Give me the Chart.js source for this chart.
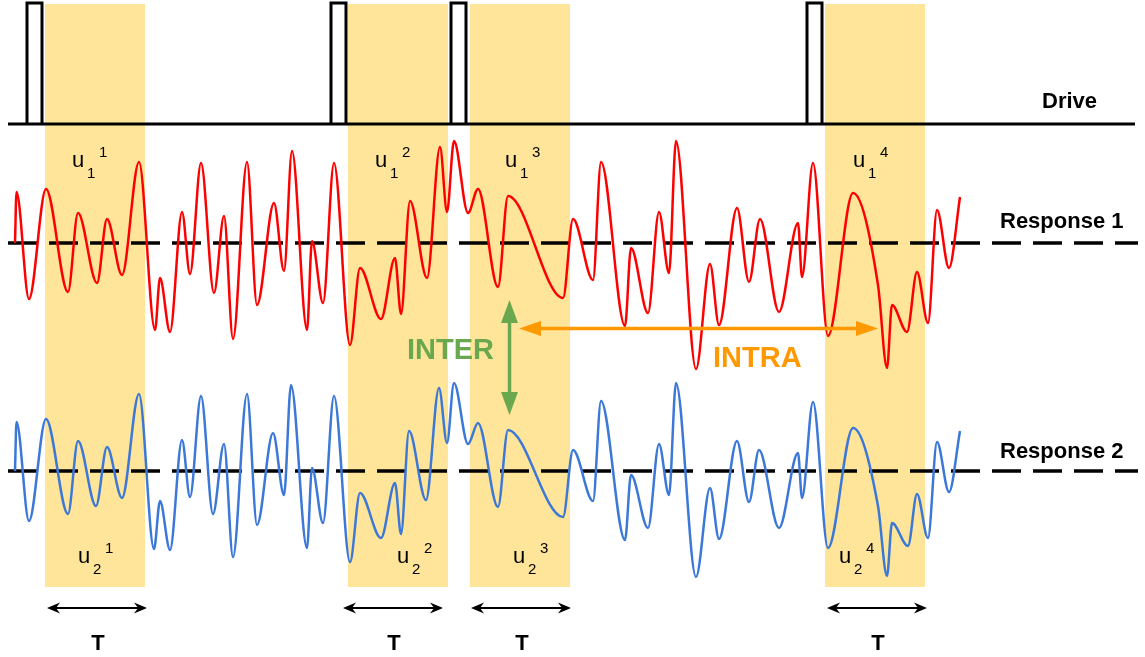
<!DOCTYPE html>
<html>
<head>
<meta charset="utf-8">
<script src="https://cdn.jsdelivr.net/npm/chart.js@4.4.1/dist/chart.umd.min.js"></script>
<style>
  html, body { margin: 0; padding: 0; background: #ffffff; }
  #wrap { width: 1145px; height: 657px; position: relative; }
</style>
</head>
<body>
<div id="wrap"><canvas id="c"></canvas></div>
<script>
// ---- Data -------------------------------------------------------------
// Response 1: turning points of the trace (time, amplitude above its baseline)
const resp1Time = [15, 16.5, 29, 46, 68, 78, 97, 107, 122, 139, 155, 160, 170, 182, 190, 201, 214, 224, 233, 247, 257, 274, 284, 292,
  307, 312, 323, 334, 350, 360, 381, 395, 401, 410, 427, 440, 447, 454, 468, 478, 498, 508, 563, 573, 593, 601, 625, 631, 648, 659,
  669, 676, 696, 710, 719, 737, 749, 760, 779, 798, 802, 813, 828, 853, 878, 887, 892, 907, 917, 928, 937, 949, 960];
const resp1Amp = [0, 51, -56, 54, -49, 30, -40, 24, -32, 81, -87, -35, -89, 31, -31, 80, -50, 27, -96, 81, -62, 40, -28, 92,
  -87, 2, -60, 80, -102, -25, -76, -15, -71, 42, -35, 96, 31, 102, 30, 54, -44, 47, -55, 24, -37, 81, -83, -5, -70, 31,
  -30, 102, -126, -21, -82, 35, -39, 24, -69, 20, -34, 80, -93, 50, -42, -125, -62, -89, -29, -80, 33, -25, 46];

// Response 2: same trials, second recording
const resp2Time = [15, 16.5, 29, 46, 68, 78, 96, 107, 122, 139, 154, 160, 170, 182, 190, 201, 213, 224, 233, 247, 257, 273, 284, 291,
  307, 312, 323, 334, 350, 360, 381, 395, 401, 409, 426, 439, 447, 454, 468, 478, 498, 508, 563, 573, 593, 601, 625, 631, 648, 659,
  669, 676, 696, 710, 719, 737, 749, 759, 779, 798, 802, 813, 828, 853, 878, 887, 892, 908, 917, 928, 937, 949, 960];
const resp2Amp = [0, 49, -50, 52, -43, 30, -35, 24, -27, 77, -78, -30, -79, 31, -26, 75, -43, 27, -86, 77, -54, 38, -24, 86,
  -77, 3, -52, 75, -91, -22, -67, -12, -63, 40, -29, 83, 28, 88, 27, 48, -36, 41, -46, 21, -30, 70, -69, -4, -57, 27,
  -24, 88, -106, -17, -68, 30, -31, 21, -57, 18, -27, 69, -77, 43, -35, -105, -52, -75, -23, -67, 29, -21, 40];

// Drive pulses and analysis windows of length T
const pulseOnsets = [27, 331, 451, 807];
const pulseWidth = 15;
const windowOnsets = [45, 348, 470, 825];
const windowLength = 100;                 // T
const trialIds = ['1', '2', '3', '4'];
const traceNames = ['Drive', 'Response 1', 'Response 2'];
const compareNames = ['INTER', 'INTRA'];

// ---- Layout (time on x, depth down the panel on y) ---------------------
const X_MIN = 0, X_MAX = 1145, Y_MIN = 0, Y_MAX = 657;
const DRIVE_BASE = 124, DRIVE_TOP = 3;
const BASE1 = 243, BASE2 = 471;
const LINE_START = 8, LINE_END = 1138, DRIVE_END = 1135;
const SHADE_TOP = 4, SHADE_BOTTOM = 587;
const U1_X = [72, 375, 505, 853], U1_Y = 167;
const U2_X = [78, 397, 513, 839], U2_Y = 563;
const T_ARROW_START = [47, 343, 471, 827], T_ARROW_Y = 608, T_TEXT_Y = 650;
const NAME_POS = [{x: 1042, y: 108}, {x: 1000, y: 228}, {x: 1000, y: 458}];
const INTER_ARROW = {x: 509.5, y0: 300, y1: 415};
const INTRA_ARROW = {y: 328.5, x0: 519, x1: 878};
const INTER_TEXT = {x: 407, y: 359};
const INTRA_TEXT = {x: 713, y: 367};

const FONT = '"Liberation Sans", Arial, Helvetica, sans-serif';
const SHADE = '#ffe599';
const RED = '#ff0000';
const BLUE = '#3c78d8';
const GREEN = '#6aa84f';
const ORANGE = '#ff9900';

// ---- Datasets ---------------------------------------------------------
const trace = (times, amps, base) => times.map((t, i) => ({x: t, y: base - amps[i]}));

// Drive: baseline with each pulse drawn as a closed box sitting on it
const drivePts = [{x: LINE_START, y: 0}];
pulseOnsets.forEach(t => {
  drivePts.push({x: t, y: 0}, {x: t, y: 1}, {x: t + pulseWidth, y: 1}, {x: t + pulseWidth, y: 0},
                {x: t, y: 0}, {x: t + pulseWidth, y: 0});
});
drivePts.push({x: DRIVE_END, y: 0});
const driveData = drivePts.map(p => ({x: p.x, y: DRIVE_BASE - p.y * (DRIVE_BASE - DRIVE_TOP)}));

const baseline = base => [{x: LINE_START, y: base}, {x: LINE_END, y: base}];

// ---- Drawing helpers --------------------------------------------------
function stealthHead(ctx, tipX, tipY, dir) {
  const L = 13, H = 5.5, N = 4;
  ctx.beginPath();
  ctx.moveTo(tipX, tipY);
  ctx.lineTo(tipX + dir * L, tipY - H);
  ctx.lineTo(tipX + dir * (L - N), tipY);
  ctx.lineTo(tipX + dir * L, tipY + H);
  ctx.closePath();
  ctx.fill();
}

function triHeadH(ctx, tipX, tipY, dir, L, H) {
  ctx.beginPath();
  ctx.moveTo(tipX, tipY);
  ctx.lineTo(tipX + dir * L, tipY - H);
  ctx.lineTo(tipX + dir * L, tipY + H);
  ctx.closePath();
  ctx.fill();
}

function triHeadV(ctx, tipX, tipY, dir, L, H) {
  ctx.beginPath();
  ctx.moveTo(tipX, tipY);
  ctx.lineTo(tipX - H, tipY + dir * L);
  ctx.lineTo(tipX + H, tipY + dir * L);
  ctx.closePath();
  ctx.fill();
}

function drawULabel(ctx, x, y, sub, sup) {
  ctx.fillStyle = '#000';
  ctx.textAlign = 'left';
  ctx.textBaseline = 'alphabetic';
  ctx.font = '22px ' + FONT;
  ctx.fillText('u', x, y);
  ctx.font = '15px ' + FONT;
  ctx.fillText(sub, x + 15, y + 11);
  ctx.fillText(sup, x + 27, y - 10);
}

// Shaded analysis windows, behind the traces
const windowsPlugin = {
  id: 'windows',
  beforeDatasetsDraw(chart) {
    const {ctx, scales: {x, y}} = chart;
    ctx.save();
    ctx.fillStyle = SHADE;
    windowOnsets.forEach(t => {
      const l = x.getPixelForValue(t), r = x.getPixelForValue(t + windowLength);
      const top = y.getPixelForValue(SHADE_TOP), bot = y.getPixelForValue(SHADE_BOTTOM);
      ctx.fillRect(l, top, r - l, bot - top);
    });
    ctx.restore();
  }
};

// Names, trial labels, T spans and comparison arrows
const annotationsPlugin = {
  id: 'annotations',
  afterDatasetsDraw(chart) {
    const {ctx, scales: {x, y}} = chart;
    const X = v => x.getPixelForValue(v), Y = v => y.getPixelForValue(v);
    ctx.save();

    // trace names
    ctx.fillStyle = '#000';
    ctx.font = 'bold 22px ' + FONT;
    ctx.textAlign = 'left';
    ctx.textBaseline = 'alphabetic';
    traceNames.forEach((n, i) => ctx.fillText(n, X(NAME_POS[i].x), Y(NAME_POS[i].y)));

    // trial labels u_r^k
    trialIds.forEach((k, i) => {
      drawULabel(ctx, X(U1_X[i]), Y(U1_Y), '1', k);
      drawULabel(ctx, X(U2_X[i]), Y(U2_Y), '2', k);
    });

    // T spans
    ctx.strokeStyle = '#000';
    ctx.fillStyle = '#000';
    ctx.lineWidth = 2;
    T_ARROW_START.forEach(s => {
      const l = X(s), r = X(s + windowLength), yy = Y(T_ARROW_Y);
      ctx.beginPath();
      ctx.moveTo(l + 6, yy);
      ctx.lineTo(r - 6, yy);
      ctx.stroke();
      stealthHead(ctx, l, yy, 1);
      stealthHead(ctx, r, yy, -1);
      ctx.font = 'bold 22px ' + FONT;
      ctx.textAlign = 'center';
      ctx.fillText('T', (l + r) / 2 + 1, Y(T_TEXT_Y));
    });

    // INTER: between the two responses
    ctx.strokeStyle = GREEN;
    ctx.fillStyle = GREEN;
    ctx.lineWidth = 3.5;
    const ix = X(INTER_ARROW.x), iy0 = Y(INTER_ARROW.y0), iy1 = Y(INTER_ARROW.y1);
    ctx.beginPath();
    ctx.moveTo(ix, iy0 + 15);
    ctx.lineTo(ix, iy1 - 15);
    ctx.stroke();
    triHeadV(ctx, ix, iy0, 1, 23, 8.5);
    triHeadV(ctx, ix, iy1, -1, 23, 8.5);
    ctx.font = 'bold 29px ' + FONT;
    ctx.textAlign = 'left';
    ctx.fillText(compareNames[0], X(INTER_TEXT.x), Y(INTER_TEXT.y));

    // INTRA: across trials within a response
    ctx.strokeStyle = ORANGE;
    ctx.fillStyle = ORANGE;
    ctx.lineWidth = 3.5;
    const ax0 = X(INTRA_ARROW.x0), ax1 = X(INTRA_ARROW.x1), ay = Y(INTRA_ARROW.y);
    ctx.beginPath();
    ctx.moveTo(ax0 + 15, ay);
    ctx.lineTo(ax1 - 15, ay);
    ctx.stroke();
    triHeadH(ctx, ax0, ay, 1, 22, 7.5);
    triHeadH(ctx, ax1, ay, -1, 22, 7.5);
    ctx.fillText(compareNames[1], X(INTRA_TEXT.x), Y(INTRA_TEXT.y));

    ctx.restore();
  }
};

// ---- Chart ------------------------------------------------------------
new Chart(document.getElementById('c'), {
  type: 'line',
  data: {
    datasets: [
      {
        label: traceNames[1], data: trace(resp1Time, resp1Amp, BASE1),
        borderColor: RED, borderWidth: 2.5, pointRadius: 0,
        cubicInterpolationMode: 'monotone', tension: 0.4, fill: false
      },
      {
        label: traceNames[2], data: trace(resp2Time, resp2Amp, BASE2),
        borderColor: BLUE, borderWidth: 2.5, pointRadius: 0,
        cubicInterpolationMode: 'monotone', tension: 0.4, fill: false
      },
      {
        label: 'baseline 1', data: baseline(BASE1),
        borderColor: '#000', borderWidth: 3.5, borderDash: [29, 12], pointRadius: 0, tension: 0
      },
      {
        label: 'baseline 2', data: baseline(BASE2),
        borderColor: '#000', borderWidth: 3.5, borderDash: [29, 12], pointRadius: 0, tension: 0
      },
      {
        label: traceNames[0], data: driveData,
        borderColor: '#000', borderWidth: 3, pointRadius: 0, tension: 0,
        borderJoinStyle: 'miter', borderCapStyle: 'butt'
      }
    ]
  },
  options: {
    responsive: true,
    maintainAspectRatio: false,
    animation: false,
    layout: { padding: 0 },
    plugins: { legend: { display: false }, tooltip: { enabled: false } },
    scales: {
      x: { type: 'linear', min: X_MIN, max: X_MAX, display: false },
      y: { type: 'linear', min: Y_MIN, max: Y_MAX, reverse: true, display: false }
    }
  },
  plugins: [windowsPlugin, annotationsPlugin]
});
</script>
</body>
</html>
